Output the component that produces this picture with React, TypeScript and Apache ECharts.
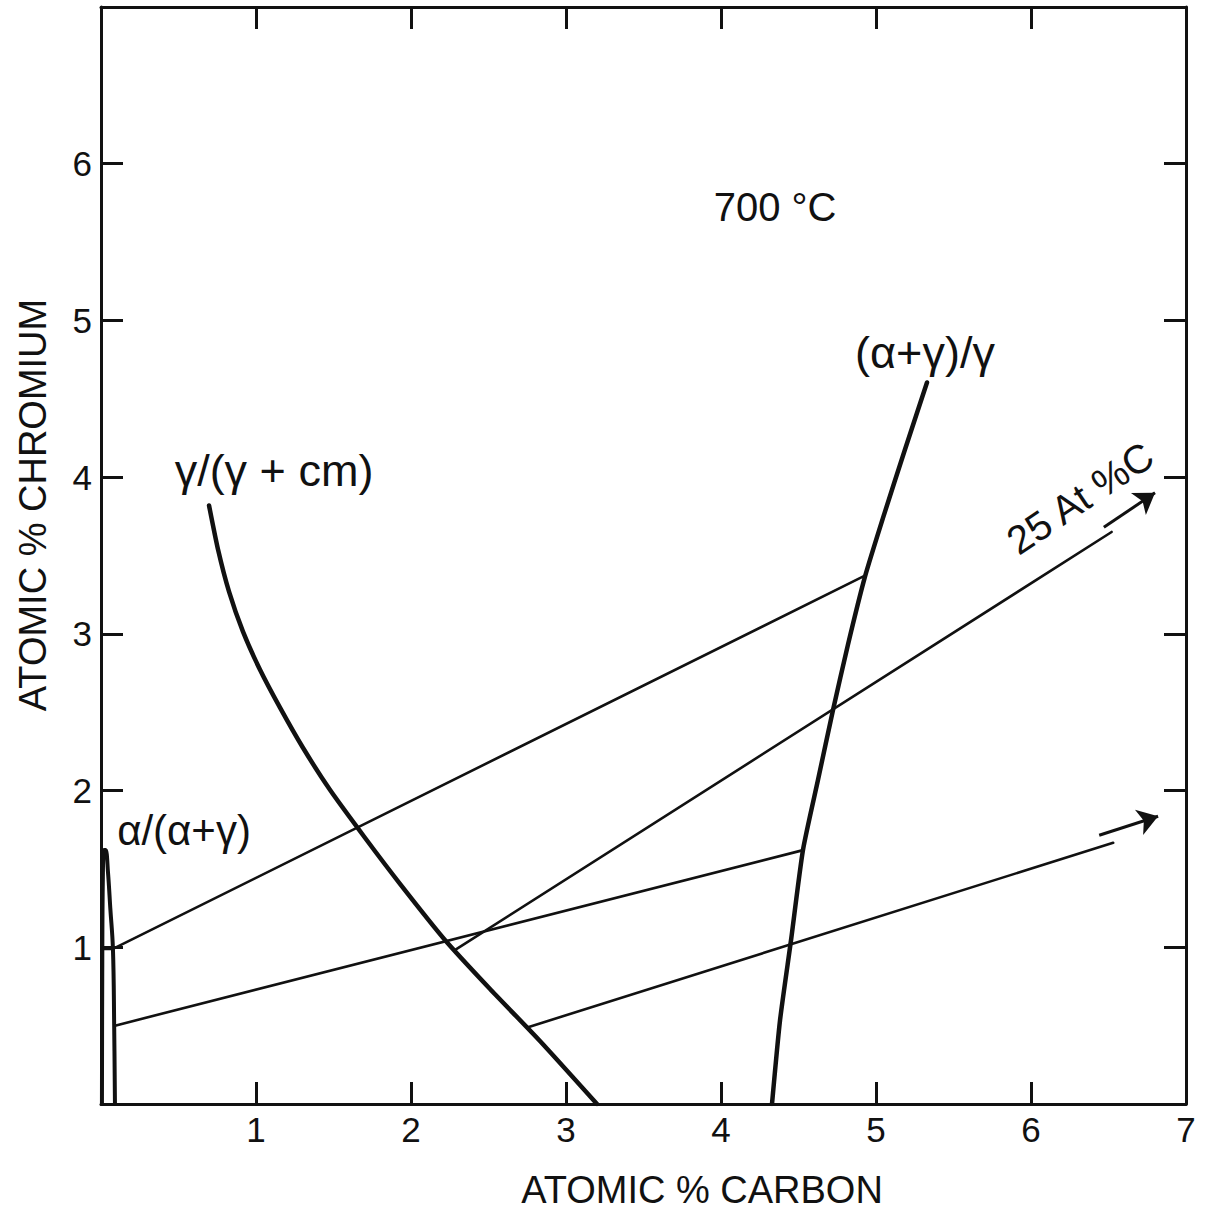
import React, { useEffect, useRef } from "react";
import * as echarts from "echarts";

// ---- data (atomic % carbon, atomic % chromium) ----
const xTickValues = [1, 2, 3, 4, 5, 6, 7];
const yTickValues = [1, 2, 3, 4, 5, 6];

const alphaBoundary = [
  [0.006, 0], [0.008, 0.8], [0.012, 1.45], [0.02, 1.62], [0.03, 1.62],
  [0.045, 1.48], [0.06, 1.25], [0.077, 0.99], [0.085, 0.5], [0.09, 0],
];
const gammaCmBoundary = [
  [0.697, 3.819], [0.755, 3.538], [0.826, 3.269], [0.916, 3.014], [1.026, 2.771],
  [1.155, 2.529], [1.303, 2.273], [1.477, 2.005], [1.703, 1.699], [1.929, 1.405],
  [2.219, 1.047], [2.51, 0.734], [2.832, 0.402], [3.2, 0],
];
const alphaGammaBoundary = [
  [5.329, 4.604], [5.187, 4.176], [5.052, 3.761], [4.929, 3.365], [4.819, 2.931],
  [4.723, 2.516], [4.626, 2.069], [4.529, 1.622], [4.452, 1.047], [4.381, 0.536],
  [4.329, 0],
];
const tieLineA = [[0.006, 0.99], [0.077, 0.99], [4.925, 3.37]];
const tieLineC = [[0.09, 0.5], [4.53, 1.62]];
const pathB = [[2.28, 0.98], [6.52, 3.65]];
const arrowB = [[6.47, 3.68], [6.8, 3.9]];
const pathD = [[2.755, 0.49], [6.53, 1.667]];
const arrowD = [[6.44, 1.715], [6.82, 1.836]];

const labels = {
  temp: "700 °C",
  xTitle: "ATOMIC % CARBON",
  yTitle: "ATOMIC % CHROMIUM",
  gammaCm: "γ/(γ + cm)",
  alphaGamma: "(α+γ)/γ",
  alpha: "α/(α+γ)",
  arrowLabel: "25 At %C",
};

const FONT = '"Liberation Sans", Arial, Helvetica, sans-serif';
const INK = "#111";

function textEl(text: string, x: number, y: number, size: number, rotation = 0) {
  return {
    type: "text",
    x,
    y,
    rotation,
    style: {
      text,
      fill: INK,
      fontSize: size,
      fontFamily: FONT,
      textAlign: "center",
      textVerticalAlign: "middle",
      align: "center",
      verticalAlign: "middle",
    },
  };
}

export default function App() {
  const ref = useRef<HTMLDivElement>(null);
  useEffect(() => {
    if (!ref.current) return;
    const chart = echarts.init(ref.current, undefined, { renderer: "svg" });
    const axisLine = { show: true, onZero: false, lineStyle: { color: INK, width: 3 } };
    const axisTick = { show: true, inside: true, length: 22, lineStyle: { color: INK, width: 3 } };
    const lineSeries = (data: number[][], width: number, smooth: number | boolean = false) => ({
      type: "line",
      data,
      symbol: "none",
      silent: true,
      smooth,
      lineStyle: { color: INK, width, cap: "round", join: "round" },
      z: 3,
    });
    const arrowSeries = (coords: number[][]) => ({
      type: "lines",
      coordinateSystem: "cartesian2d",
      symbol: ["none", "arrow"],
      symbolSize: [14, 20],
      silent: true,
      lineStyle: { color: INK, width: 3, opacity: 1, curveness: 0 },
      itemStyle: { color: INK },
      data: [{ coords }],
      z: 3,
    });
    chart.setOption({
      animation: false,
      backgroundColor: "#fff",
      grid: { left: 101, right: 23, top: 7, bottom: 107 },
      xAxis: [
        {
          type: "value", min: 0, max: 7, interval: 1, position: "bottom",
          axisLine, axisTick, splitLine: { show: false },
          axisLabel: {
            margin: 8, fontSize: 35, fontFamily: FONT, color: INK,
            formatter: (v: number) => (xTickValues.includes(v) ? String(v) : ""),
          },
        },
        {
          type: "value", min: 0, max: 7, interval: 1, position: "top",
          axisLine, axisTick, splitLine: { show: false }, axisLabel: { show: false },
        },
      ],
      yAxis: [
        {
          type: "value", min: 0, max: 7, interval: 1, position: "left",
          axisLine, axisTick, splitLine: { show: false },
          axisLabel: {
            margin: 9, fontSize: 35, fontFamily: FONT, color: INK,
            formatter: (v: number) => (yTickValues.includes(v) ? String(v) : ""),
          },
        },
        {
          type: "value", min: 0, max: 7, interval: 1, position: "right",
          axisLine, axisTick, splitLine: { show: false }, axisLabel: { show: false },
        },
      ],
      series: [
        lineSeries(alphaBoundary, 4, 0.4),
        lineSeries(gammaCmBoundary, 4.5, 0.2),
        lineSeries(alphaGammaBoundary, 4.5, 0.2),
        lineSeries(tieLineA, 2.6),
        lineSeries(tieLineC, 2.6),
        lineSeries(pathB, 2.6),
        lineSeries(pathD, 2.6),
        arrowSeries(arrowB),
        arrowSeries(arrowD),
      ],
      graphic: [
        textEl(labels.temp, 775, 207, 40),
        textEl(labels.xTitle, 702, 1190, 38),
        textEl(labels.yTitle, 33, 505, 38, Math.PI / 2),
        textEl(labels.gammaCm, 274, 470, 45),
        textEl(labels.alphaGamma, 925, 352, 45),
        textEl(labels.alpha, 184, 830, 42),
        textEl(labels.arrowLabel, 1080, 498, 40, (34 * Math.PI) / 180),
      ],
    });
    return () => chart.dispose();
  }, []);
  return (
    <div
      ref={ref}
      style={{ position: "fixed", left: 0, top: 0, width: 1209, height: 1211, background: "#fff" }}
    />
  );
}
